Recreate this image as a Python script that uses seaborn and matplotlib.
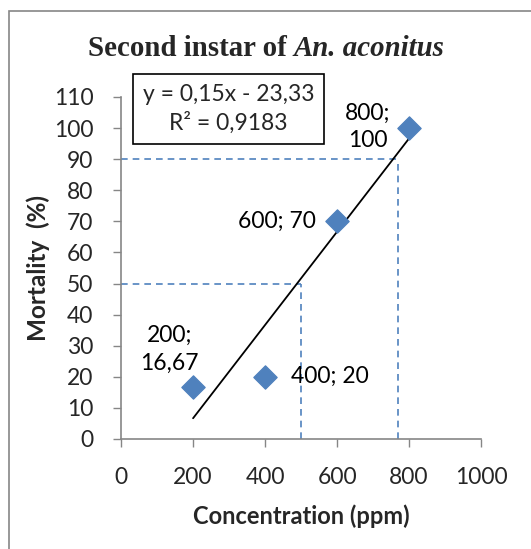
import matplotlib
matplotlib.use("Agg")
import matplotlib.pyplot as plt
import seaborn as sns
import pandas as pd
import numpy as np
from matplotlib.patches import Rectangle

conc = [200, 400, 600, 800]
mortality = [16.67, 20, 70, 100]
point_labels = ["200;\n16,67", "400; 20", "600; 70", "800;\n100"]
slope, intercept = 0.15, -23.33
lc_levels = [50, 90]
lc_conc = [500, 770]
x_ticks = [0, 200, 400, 600, 800, 1000]
y_ticks = list(range(0, 111, 10))

sns.set_theme(style="white")
plt.rcParams['font.family'] = ['Lato', 'DejaVu Sans']

fig = plt.figure(figsize=(5.31, 5.49), dpi=100)
ax = fig.add_axes([0.228, 0.2004, 0.678, 0.623])

df = pd.DataFrame({"Concentration": conc, "Mortality": mortality})
trend = pd.DataFrame({"x": [conc[0], conc[-1]]})
trend["y"] = slope * trend["x"] + intercept

sns.lineplot(data=trend, x="x", y="y", color="black", linewidth=1.3, ax=ax, zorder=3)
blue = "#4F81BD"
for lvl, c in zip(lc_levels, lc_conc):
    ax.plot([0, c], [lvl, lvl], color=blue, linestyle=(0, (4, 3)), linewidth=1.2, zorder=2)
    ax.plot([c, c], [0, lvl], color=blue, linestyle=(0, (4, 3)), linewidth=1.2, zorder=2)
sns.scatterplot(data=df, x="Concentration", y="Mortality", marker="D", s=140,
                color=blue, edgecolor=blue, ax=ax, zorder=4)

FS = 16.5
offsets = [(-17, 27), (47, 0), (-43, 0), (-30, 0.7)]
for x, y, t, off in zip(conc, mortality, point_labels, offsets):
    ax.annotate(t, (x, y), xytext=off, textcoords="offset points",
                ha="center", va="center", fontsize=FS, color="black",
                linespacing=1.4)

ax.set_xlim(0, 1000)
ax.set_ylim(0, 110)
ax.set_xticks(x_ticks)
ax.set_yticks(y_ticks)
ax.tick_params(axis="both", labelsize=FS, length=6, width=1, color="#868686",
               direction="out", left=True, bottom=True)
ax.tick_params(axis="y", pad=14)
ax.tick_params(axis="x", pad=14)
for s in ["top", "right"]:
    ax.spines[s].set_visible(False)
for s in ["left", "bottom"]:
    ax.spines[s].set_color("#868686")
    ax.spines[s].set_linewidth(1.2)
ax.set_facecolor("white")

ax.set_xlabel("Concentration (ppm)", fontsize=17, fontweight="bold")
ax.xaxis.set_label_coords(0.5, -0.19)
ax.set_ylabel("Mortality  (%)", fontsize=17.5, fontweight="bold")
ax.yaxis.set_label_coords(-0.198, 0.5)

# title with italic species name
t1 = fig.text(0, 0.912, "Second instar of ", ha="left", va="center",
              fontsize=20.8, fontweight="bold", fontfamily=['Liberation Serif'])
t2 = fig.text(0, 0.912, "An. aconitus", ha="left", va="center",
              fontsize=20.8, fontweight="bold", fontstyle="italic", fontfamily=['Liberation Serif'])
fig.canvas.draw()
r = fig.canvas.get_renderer()
w1 = t1.get_window_extent(r).width
w2 = t2.get_window_extent(r).width
W = fig.bbox.width
x0 = (266 - (w1 + w2) / 2) / W
t1.set_x(x0)
t2.set_x(x0 + w1 / W)

ax.text(0.299, 0.965, "y = 0,15x - 23,33\nR² = 0,9183", transform=ax.transAxes,
        ha="center", va="center", fontsize=FS, linespacing=1.4,
        bbox=dict(boxstyle="square,pad=0.42", facecolor="white", edgecolor="black", linewidth=1.2))

fig.patches.append(Rectangle((0.017, -0.1), 1.2, 1.08, transform=fig.transFigure,
                             fill=False, edgecolor="#868686", linewidth=1.2))

fig.savefig("out.png", dpi=100)
